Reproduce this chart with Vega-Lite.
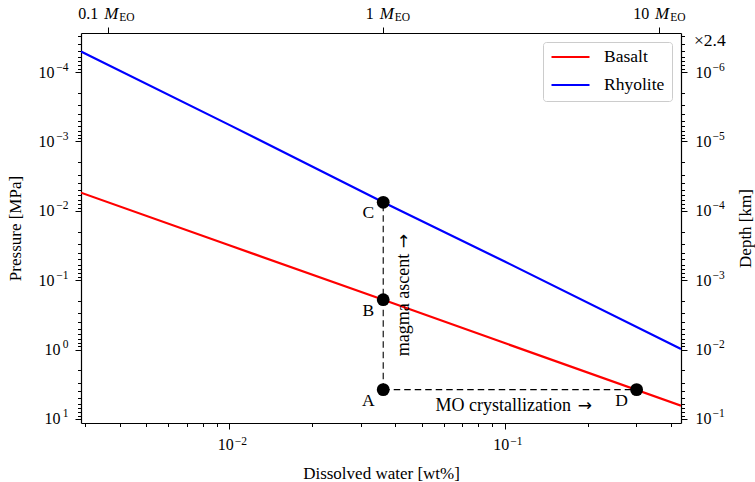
{
  "$schema": "https://vega.github.io/schema/vega-lite/v6.json",
  "width": 600,
  "height": 390,
  "autosize": {"type": "none"},
  "padding": {"left": 81, "top": 33, "right": 74, "bottom": 59},
  "background": "white",
  "config": {
    "view": {"stroke": null},
    "font": "Liberation Serif",
    "axis": {
      "grid": false,
      "domainColor": "black",
      "tickColor": "black",
      "labelColor": "black",
      "titleColor": "black",
      "domainWidth": 1.2,
      "tickWidth": 1,
      "titleFontWeight": "normal",
      "labelFont": "Liberation Serif",
      "labelFontSize": 16,
      "titleFont": "Liberation Serif",
      "titleFontSize": 17,
      "labelOverlap": false,
      "labelFlush": false
    }
  },
  "datasets": {
    "lines": [
      {"material": "Basalt", "x": 0.002896, "p": 0.00548},
      {"material": "Basalt", "x": 0.01, "p": 0.0314},
      {"material": "Basalt", "x": 0.03622, "p": 0.191},
      {"material": "Basalt", "x": 0.1, "p": 0.805},
      {"material": "Basalt", "x": 0.4365, "p": 6.43},
      {"material": "Rhyolite", "x": 0.002896, "p": 0.0000505},
      {"material": "Rhyolite", "x": 0.01, "p": 0.000578},
      {"material": "Rhyolite", "x": 0.03622, "p": 0.00755},
      {"material": "Rhyolite", "x": 0.1, "p": 0.0538},
      {"material": "Rhyolite", "x": 0.4365, "p": 0.98}
    ],
    "points": [
      {"label": "A", "x": 0.03622, "p": 3.78},
      {"label": "B", "x": 0.03622, "p": 0.191},
      {"label": "C", "x": 0.03622, "p": 0.00755},
      {"label": "D", "x": 0.3012, "p": 3.78}
    ],
    "guides": [
      {"x": 0.03622, "p": 3.78, "x2": 0.03622, "p2": 0.00755},
      {"x": 0.03622, "p": 3.78, "x2": 0.3012, "p2": 3.78}
    ],
    "note_v": [{"label": "magma ascent", "x": 0.04305, "p": 0.0415}],
    "arrow_v": [{"label": "→", "x": 0.04305, "p": 0.02742}],
    "note_h": [{"label": "MO crystallization", "x": 0.1739, "p": 6.43}],
    "arrow_h": [{"label": "→", "x": 0.1954, "p": 6.43}],
    "note_mult": [{"label": "×2.4", "x": 0.4365, "p": 0.0000274}],
    "dummy": [{"x": 0.01, "p": 1}],
    "axis_r": [{"depth": 0.000001}],
    "axis_t": [{"mass": 1}]
  },
  "layer": [
    {
      "encoding": {
        "x": {"field": "x", "type": "quantitative", "scale": {"type": "log", "domain": [0.002896, 0.4365]}, "axis": null},
        "y": {"field": "p", "type": "quantitative", "scale": {"type": "log", "domain": [0.0000274, 11.43], "reverse": true}, "axis": null}
      },
      "layer": [
        {
          "data": {"name": "guides"},
          "mark": {"type": "rule", "strokeDash": [6.5, 4], "color": "black", "strokeWidth": 1.1},
          "encoding": {"x2": {"field": "x2"}, "y2": {"field": "p2"}}
        },
        {
          "data": {"name": "lines"},
          "mark": {"type": "line", "strokeWidth": 2.2, "clip": true},
          "encoding": {
            "color": {
              "field": "material",
              "type": "nominal",
              "scale": {"domain": ["Basalt", "Rhyolite"], "range": ["#ff0000", "#0000ff"]},
              "legend": {
                "title": null,
                "orient": "top-right",
                "offset": 9,
                "symbolType": "stroke",
                "symbolSize": 1444,
                "symbolStrokeWidth": 2.2,
                "clipHeight": 16,
                "labelFont": "Liberation Serif",
                "labelFontSize": 17.5,
                "labelColor": "black",
                "fillColor": "white",
                "strokeColor": "#cccccc",
                "cornerRadius": 3,
                "padding": 7,
                "rowPadding": 10,
                "labelOffset": 13
              }
            }
          }
        },
        {
          "data": {"name": "points"},
          "mark": {"type": "point", "shape": "circle", "filled": true, "size": 165, "color": "black", "opacity": 1}
        },
        {
          "data": {"name": "points"},
          "mark": {"type": "text", "dx": -15, "dy": 11, "fontSize": 17.5, "color": "black", "align": "center", "baseline": "middle"},
          "encoding": {"text": {"field": "label"}}
        },
        {
          "data": {"name": "note_v"},
          "mark": {"type": "text", "angle": 270, "fontSize": 18, "color": "black", "align": "right", "baseline": "middle"},
          "encoding": {"text": {"field": "label"}}
        },
        {
          "data": {"name": "arrow_v"},
          "mark": {"type": "text", "angle": 270, "font": "DejaVu Sans", "fontSize": 17, "color": "black", "align": "center", "baseline": "middle"},
          "encoding": {"text": {"field": "label"}}
        },
        {
          "data": {"name": "note_h"},
          "mark": {"type": "text", "fontSize": 18, "color": "black", "align": "right", "baseline": "middle"},
          "encoding": {"text": {"field": "label"}}
        },
        {
          "data": {"name": "arrow_h"},
          "mark": {"type": "text", "font": "DejaVu Sans", "fontSize": 17, "color": "black", "align": "center", "baseline": "middle"},
          "encoding": {"text": {"field": "label"}}
        },
        {
          "data": {"name": "note_mult"},
          "mark": {"type": "text", "fontSize": 17.5, "color": "black", "align": "left", "baseline": "middle", "dx": 13, "dy": 8},
          "encoding": {"text": {"field": "label"}}
        },
        {
          "data": {"name": "dummy"},
          "mark": {"type": "point", "opacity": 0},
          "encoding": {
            "x": {
              "field": "x", "type": "quantitative", "scale": {"type": "log", "domain": [0.002896, 0.4365]},
              "axis": {
                "orient": "bottom",
                "title": "Dissolved water [wt%]",
                "values": [0.003, 0.004, 0.005, 0.006, 0.007, 0.008, 0.009, 0.01, 0.02, 0.03, 0.04, 0.05, 0.06, 0.07, 0.08, 0.09, 0.1, 0.2, 0.3, 0.4],
                "labelExpr": "abs(log(datum.value)/LN10 - round(log(datum.value)/LN10)) < 1e-6 ? '10' : ''",
                "tickSize": {"condition": {"test": "abs(log(datum.value)/LN10 - round(log(datum.value)/LN10)) < 1e-6", "value": 6}, "value": 3.5},
                "labelAlign": "right",
                "labelOffset": 4,
                "labelBaseline": "alphabetic",
                "labelPadding": 20,
                "titleBaseline": "alphabetic",
                "titleY": 55
              }
            }
          }
        },
        {
          "data": {"name": "dummy"},
          "mark": {"type": "point", "opacity": 0},
          "encoding": {
            "x": {
              "field": "x", "type": "quantitative", "scale": {"type": "log", "domain": [0.002896, 0.4365]},
              "axis": {
                "orient": "bottom",
                "title": null,
                "domain": false,
                "tickOpacity": 0,
                "tickSize": 6,
                "values": [0.01, 0.1],
                "labelExpr": "(datum.value < 1 ? '−' : '') + abs(round(log(datum.value)/LN10))",
                "labelFontSize": 11.5,
                "labelAlign": "left",
                "labelOffset": 5,
                "labelBaseline": "alphabetic",
                "labelPadding": 15
              }
            }
          }
        },
        {
          "data": {"name": "dummy"},
          "mark": {"type": "point", "opacity": 0},
          "encoding": {
            "y": {
              "field": "p", "type": "quantitative", "scale": {"type": "log", "domain": [0.0000274, 11.43], "reverse": true},
              "axis": {
                "orient": "left",
                "title": "Pressure [MPa]",
                "values": [0.00003, 0.00004, 0.00005, 0.00006, 0.00007, 0.00008, 0.00009, 0.0001, 0.0002, 0.0003, 0.0004, 0.0005, 0.0006, 0.0007, 0.0008, 0.0009, 0.001, 0.002, 0.003, 0.004, 0.005, 0.006, 0.007, 0.008, 0.009, 0.01, 0.02, 0.03, 0.04, 0.05, 0.06, 0.07, 0.08, 0.09, 0.1, 0.2, 0.3, 0.4, 0.5, 0.6, 0.7, 0.8, 0.9, 1, 2, 3, 4, 5, 6, 7, 8, 9, 10],
                "labelExpr": "(datum.value < 0.5 && abs(log(datum.value)/LN10 - round(log(datum.value)/LN10)) < 1e-6) ? '10' : ''",
                "tickSize": {"condition": {"test": "abs(log(datum.value)/LN10 - round(log(datum.value)/LN10)) < 1e-6", "value": 6}, "value": 3.5},
                "labelAlign": "right",
                "labelPadding": 21,
                "titleAngle": 270,
                "titleBaseline": "alphabetic",
                "titleX": -61
              }
            }
          }
        },
        {
          "data": {"name": "dummy"},
          "mark": {"type": "point", "opacity": 0},
          "encoding": {
            "y": {
              "field": "p", "type": "quantitative", "scale": {"type": "log", "domain": [0.0000274, 11.43], "reverse": true},
              "axis": {
                "orient": "left",
                "title": null,
                "domain": false,
                "tickOpacity": 0,
                "tickSize": 6,
                "values": [1, 10],
                "labelExpr": "'10'",
                "labelAlign": "right",
                "labelPadding": 15
              }
            }
          }
        },
        {
          "data": {"name": "dummy"},
          "mark": {"type": "point", "opacity": 0},
          "encoding": {
            "y": {
              "field": "p", "type": "quantitative", "scale": {"type": "log", "domain": [0.0000274, 11.43], "reverse": true},
              "axis": {
                "orient": "left",
                "title": null,
                "domain": false,
                "tickOpacity": 0,
                "tickSize": 6,
                "values": [0.0001, 0.001, 0.01, 0.1, 1, 10],
                "labelExpr": "(datum.value < 1 ? '−' : '') + abs(round(log(datum.value)/LN10))",
                "labelFontSize": 11.5,
                "labelAlign": "right",
                "labelOffset": -5,
                "labelPadding": 7
              }
            }
          }
        }
      ],
      "resolve": {"axis": {"x": "independent", "y": "independent"}}
    },
    {
      "data": {"name": "axis_r"},
      "layer": [
        {
          "mark": {"type": "point", "opacity": 0},
          "encoding": {
            "y": {
              "field": "depth", "type": "quantitative", "scale": {"type": "log", "domain": [0.000000274, 0.1143], "reverse": true},
              "axis": {
                "orient": "right",
                "title": "Depth [km]",
                "values": [0.0000003, 0.0000004, 0.0000005, 0.0000006, 0.0000007, 0.0000008, 0.0000009, 0.000001, 0.000002, 0.000003, 0.000004, 0.000005, 0.000006, 0.000007, 0.000008, 0.000009, 0.00001, 0.00002, 0.00003, 0.00004, 0.00005, 0.00006, 0.00007, 0.00008, 0.00009, 0.0001, 0.0002, 0.0003, 0.0004, 0.0005, 0.0006, 0.0007, 0.0008, 0.0009, 0.001, 0.002, 0.003, 0.004, 0.005, 0.006, 0.007, 0.008, 0.009, 0.01, 0.02, 0.03, 0.04, 0.05, 0.06, 0.07, 0.08, 0.09, 0.1],
                "labelExpr": "abs(log(datum.value)/LN10 - round(log(datum.value)/LN10)) < 1e-6 ? '10' : ''",
                "tickSize": {"condition": {"test": "abs(log(datum.value)/LN10 - round(log(datum.value)/LN10)) < 1e-6", "value": 6}, "value": 3.5},
                "labelAlign": "left",
                "labelPadding": 8,
                "titleAngle": 270,
                "titleBaseline": "alphabetic",
                "titleX": 69
              }
            }
          }
        },
        {
          "mark": {"type": "point", "opacity": 0},
          "encoding": {
            "y": {
              "field": "depth", "type": "quantitative", "scale": {"type": "log", "domain": [0.000000274, 0.1143], "reverse": true},
              "axis": {
                "orient": "right",
                "title": null,
                "domain": false,
                "tickOpacity": 0,
                "tickSize": 6,
                "values": [0.000001, 0.00001, 0.0001, 0.001, 0.01, 0.1],
                "labelExpr": "(datum.value < 1 ? '−' : '') + abs(round(log(datum.value)/LN10))",
                "labelFontSize": 11.5,
                "labelAlign": "left",
                "labelOffset": -5,
                "labelPadding": 25
              }
            }
          }
        }
      ],
      "resolve": {"axis": {"y": "independent"}}
    },
    {
      "data": {"name": "axis_t"},
      "layer": [
        {
          "mark": {"type": "point", "opacity": 0},
          "encoding": {
            "x": {
              "field": "mass", "type": "quantitative", "scale": {"type": "log", "domain": [0.07996, 12.05]},
              "axis": {
                "orient": "top",
                "title": null,
                "values": [0.1, 1, 10],
                "labelExpr": "datum.value == 0.1 ? '0.1' : datum.value == 1 ? '1' : '10'",
                "tickSize": 6,
                "labelAlign": "right",
                "labelOffset": -10,
                "labelBaseline": "alphabetic",
                "labelPadding": 9
              }
            }
          }
        },
        {
          "mark": {"type": "point", "opacity": 0},
          "encoding": {
            "x": {
              "field": "mass", "type": "quantitative", "scale": {"type": "log", "domain": [0.07996, 12.05]},
              "axis": {
                "orient": "top",
                "title": null,
                "domain": false,
                "tickOpacity": 0,
                "values": [0.1, 1, 10],
                "labelExpr": "'M'",
                "tickSize": 6,
                "labelFontStyle": "italic",
                "labelFontSize": 17,
                "labelAlign": "center",
                "labelOffset": 3,
                "labelBaseline": "alphabetic",
                "labelPadding": 9
              }
            }
          }
        },
        {
          "mark": {"type": "point", "opacity": 0},
          "encoding": {
            "x": {
              "field": "mass", "type": "quantitative", "scale": {"type": "log", "domain": [0.07996, 12.05]},
              "axis": {
                "orient": "top",
                "title": null,
                "domain": false,
                "tickOpacity": 0,
                "values": [0.1, 1, 10],
                "labelExpr": "'EO'",
                "tickSize": 6,
                "labelFontSize": 11.5,
                "labelAlign": "left",
                "labelOffset": 11,
                "labelBaseline": "alphabetic",
                "labelPadding": 7
              }
            }
          }
        }
      ],
      "resolve": {"axis": {"x": "independent"}}
    }
  ],
  "resolve": {
    "scale": {"x": "independent", "y": "independent"},
    "axis": {"x": "independent", "y": "independent"}
  }
}
